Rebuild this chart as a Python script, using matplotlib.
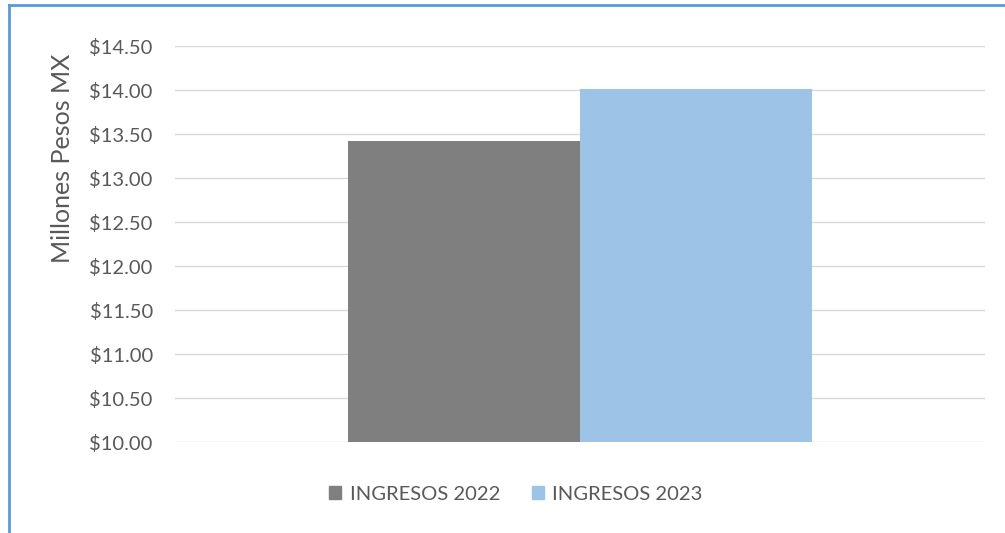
import numpy as np
import matplotlib.pyplot as plt
from matplotlib.lines import Line2D
from matplotlib.patches import Patch

series = ["INGRESOS 2022", "INGRESOS 2023"]
valores = [13.42, 14.01]
colores = ["#7f7f7f", "#9dc3e6"]
yticks = [10.0, 10.5, 11.0, 11.5, 12.0, 12.5, 13.0, 13.5, 14.0, 14.5]

plt.rcParams['font.family'] = ['Lato', 'DejaVu Sans']

fig = plt.figure(figsize=(10.05, 5.33), dpi=100)
ax = fig.add_axes([175/1005, 1 - 442/533, 810/1005, 396/533])

ancho = 0.2864
pos = [-ancho/2, ancho/2]
for x, v, c, s in zip(pos, valores, colores, series):
    ax.bar(x, v - 10.0, bottom=10.0, width=ancho, color=c, label=s, zorder=2)

ax.set_xlim(-0.5, 0.5)
ax.set_ylim(10.0, 14.5)
ax.set_yticks(yticks)
ax.set_yticklabels(["${:.2f}".format(t) for t in yticks], color="#595959", fontsize=14.5)
ax.tick_params(axis='y', length=0, pad=16)
ax.set_xticks([])
ax.grid(axis='y', color="#d9d9d9", linewidth=1, zorder=0)
for sp in ax.spines.values():
    sp.set_visible(False)
ax.set_ylabel("Millones Pesos MX", color="#595959", fontsize=18, va='center')
ax.yaxis.set_label_coords((62 - 175)/810, (442 - 158)/396)

handles = [Patch(color=c) for c in colores]
fig.legend(handles, series, loc='center', bbox_to_anchor=(516/1005, 1 - 494/533), ncol=2,
           frameon=False, handlelength=0.6, handleheight=0.6, handletextpad=0.4,
           columnspacing=1.6, fontsize=14.5, labelcolor="#595959")

# borde azul del cuadro
fig.add_artist(Line2D([9/1005, 9/1005], [0, 1 - 5/533], color="#5b9bd5", linewidth=2))
fig.add_artist(Line2D([9/1005, 1], [1 - 5/533, 1 - 5/533], color="#5b9bd5", linewidth=2))

fig.savefig("out.png", dpi=100)
